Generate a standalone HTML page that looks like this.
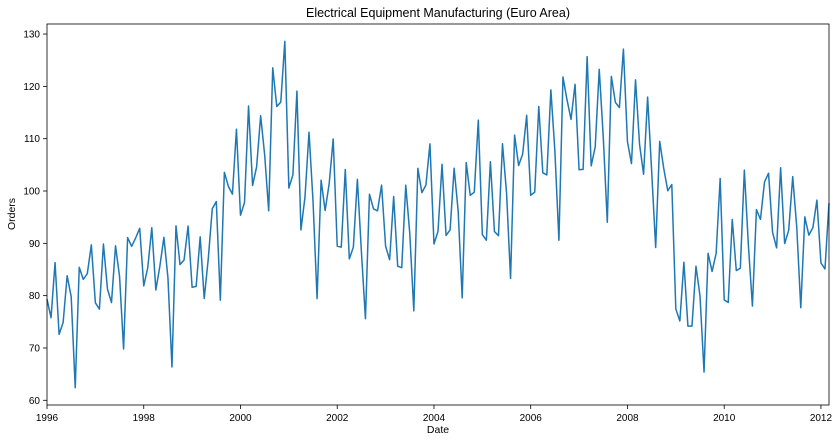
<!DOCTYPE html>
<html><head><meta charset="utf-8">
<style>
body{margin:0;background:#fff;width:840px;height:441px;overflow:hidden;font-family:"Liberation Sans",sans-serif;}
svg text{font-family:"Liberation Sans",sans-serif;fill:#000;}
</style></head><body>
<svg id="chart" width="840" height="441" xmlns="http://www.w3.org/2000/svg">
<text x="438" y="17" font-size="12.5" text-anchor="middle">Electrical Equipment Manufacturing (Euro Area)</text>
<text x="438" y="433" font-size="10.5" text-anchor="middle">Date</text>
<text x="15" y="214" font-size="10.5" text-anchor="middle" transform="rotate(-90 15 214)">Orders</text>
<g id="axes"></g>
<path id="series" fill="none" stroke="#1f77b4" stroke-width="1.5" stroke-linejoin="round"/>
<rect x="47" y="24" width="782" height="381" fill="none" stroke="#000" stroke-width="0.8"/>
</svg>
<script>
const startYear = 1996;
const values = [
79.35,75.78,86.32,72.60,74.86,83.81,79.80,62.41,85.41,83.11,84.21,89.70,
78.64,77.42,89.86,81.27,78.68,89.51,83.67,69.80,91.09,89.43,91.04,92.87,
81.87,85.36,92.98,81.09,85.64,91.14,83.46,66.37,93.34,85.93,86.81,93.30,
81.59,81.77,91.24,79.45,86.99,96.60,97.99,79.13,103.56,100.89,99.40,111.80,
95.37,97.81,116.25,101.06,104.60,114.38,106.89,96.22,123.54,116.15,117.00,128.61,
100.56,103.07,119.08,92.56,98.83,111.24,98.00,79.43,102.05,96.28,101.38,109.95,
89.47,89.27,104.12,87.03,89.26,102.23,88.37,75.60,99.38,96.58,96.22,101.12,
89.45,86.87,98.94,85.63,85.34,101.09,91.90,77.09,104.32,99.69,101.13,109.00,
89.88,92.27,105.11,91.50,92.56,104.35,96.21,79.58,105.43,99.18,99.77,113.55,
91.65,90.61,105.60,92.26,91.46,109.02,99.70,83.29,110.68,104.87,107.06,114.46,
99.17,99.79,116.14,103.48,103.07,119.32,107.57,90.58,121.78,117.45,113.69,120.39,
104.06,104.14,125.69,104.81,108.44,123.24,110.29,94.03,121.91,116.96,115.95,127.11,
109.44,105.23,121.25,108.91,103.20,117.94,103.86,89.20,109.48,104.33,100.05,101.23,
77.46,75.16,86.39,74.17,74.17,85.61,79.93,65.40,88.08,84.63,88.08,102.38,
79.20,78.70,94.56,84.80,85.24,103.98,89.66,78.00,96.44,94.58,101.72,103.40,
92.11,89.13,104.44,89.96,92.49,102.74,93.07,77.70,95.05,91.57,93.00,98.25,
86.25,85.10,97.68];
const xTicks = [1996,1998,2000,2002,2004,2006,2008,2010,2012];
const yTicks = [60,70,80,90,100,110,120,130];

const L=47,R=829,T=24,B=405;
const xMin=startYear, xMax=startYear+(values.length-1)/12;
const vmin=Math.min(...values), vmax=Math.max(...values), pad=(vmax-vmin)*0.05;
const yMin=vmin-pad, yMax=vmax+pad;
const xs=t=>L+(t-xMin)/(xMax-xMin)*(R-L);
const ys=v=>B-(v-yMin)/(yMax-yMin)*(B-T);
const NS="http://www.w3.org/2000/svg";
const ax=document.getElementById('axes');
function mk(tag,attrs){const e=document.createElementNS(NS,tag);for(const k in attrs)e.setAttribute(k,attrs[k]);ax.appendChild(e);return e;}
xTicks.forEach(t=>{
  const x=xs(t);
  const l=mk('line',{x1:x,x2:x,y1:B,y2:B+4,stroke:'#000','stroke-width':0.8});
  
  
  const tx=mk('text',{x:x,y:B+16,'font-size':10,'text-anchor':'middle'});
  tx.textContent=t;
  
  
});
yTicks.forEach(v=>{
  const y=ys(v);
  const l=mk('line',{x1:L-4,x2:L,y1:y,y2:y,stroke:'#000','stroke-width':0.8});
  
  
  const tx=mk('text',{x:L-7,y:y+3.5,'font-size':10,'text-anchor':'end'});
  tx.textContent=v;
  
  
});
document.getElementById('series').setAttribute('d',values.map((v,i)=>(i?'L':'M')+xs(startYear+i/12).toFixed(2)+','+ys(v).toFixed(2)).join(''));
</script>
</body></html>
